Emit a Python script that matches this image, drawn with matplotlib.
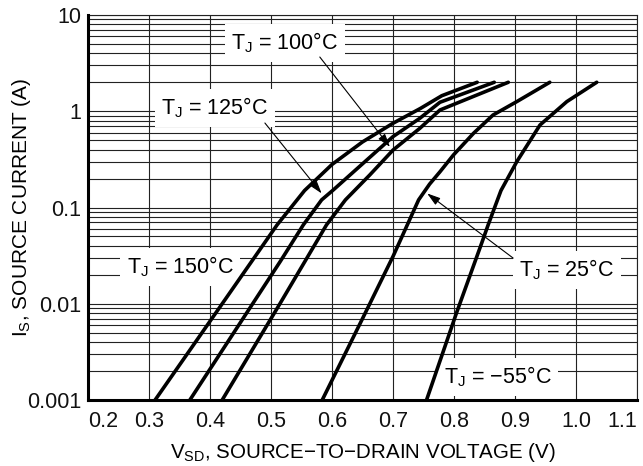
import matplotlib
matplotlib.use("Agg")
import matplotlib.pyplot as plt
from matplotlib.ticker import FixedLocator, NullFormatter, LogLocator

plt.rcParams['font.family'] = ['Liberation Sans', 'DejaVu Sans']
plt.rcParams['mathtext.fontset'] = 'custom'
plt.rcParams['mathtext.rm'] = 'Liberation Sans'
plt.rcParams['mathtext.it'] = 'Liberation Sans'

# ---- data ----
v_150 = [0.31, 0.42, 0.51, 0.555, 0.60, 0.65, 0.70, 0.745, 0.78, 0.838]
i_150 = [0.001, 0.01, 0.066, 0.15, 0.28, 0.48, 0.75, 1.07, 1.45, 2.0]

v_125 = [0.367, 0.515, 0.553, 0.583, 0.602, 0.651, 0.700, 0.744, 0.777, 0.866]
i_125 = [0.001, 0.0274, 0.066, 0.12, 0.152, 0.288, 0.545, 0.845, 1.24, 2.0]

v_100 = [0.42, 0.515, 0.591, 0.622, 0.662, 0.700, 0.744, 0.777, 0.889]
i_100 = [0.001, 0.0101, 0.066, 0.12, 0.218, 0.395, 0.665, 1.03, 2.0]

v_25 = [0.584, 0.649, 0.700, 0.742, 0.760, 0.777, 0.799, 0.832, 0.864, 0.903, 0.957]
i_25 = [0.001, 0.0068, 0.031, 0.12, 0.175, 0.235, 0.351, 0.59, 0.914, 1.26, 2.0]

v_m55 = [0.755, 0.804, 0.845, 0.856, 0.877, 0.903, 0.941, 0.985, 1.034]
i_m55 = [0.001, 0.008, 0.042, 0.066, 0.15, 0.30, 0.72, 1.26, 2.0]

x_ticks = [0.2, 0.3, 0.4, 0.5, 0.6, 0.7, 0.8, 0.9, 1.0, 1.1]
x_tick_labels = ['0.2', '0.3', '0.4', '0.5', '0.6', '0.7', '0.8', '0.9', '1.0', '1.1']
y_ticks = [0.001, 0.01, 0.1, 1, 10]
y_tick_labels = ['0.001', '0.01', '0.1', '1', '10']

labels = [r'T$_\mathregular{J}$ = 100°C', r'T$_\mathregular{J}$ = 125°C',
          r'T$_\mathregular{J}$ = 150°C', r'T$_\mathregular{J}$ = 25°C',
          r'T$_\mathregular{J}$ = −55°C']

fig = plt.figure(figsize=(6.43, 4.66), dpi=100)
ax = fig.add_axes([88/643, 66/466, (637-88)/643, (400-15)/466])

ax.set_yscale('log')
ax.set_xlim(0.2, 1.1)
ax.set_ylim(0.001, 10)

gcol = '#222222'
glw = 0.8
ax.xaxis.set_major_locator(FixedLocator(x_ticks))
ax.set_xticklabels(x_tick_labels)
ax.yaxis.set_major_locator(FixedLocator(y_ticks))
ax.set_yticklabels(y_tick_labels)
ax.yaxis.set_minor_locator(LogLocator(base=10, subs=range(2, 10), numticks=20))
ax.yaxis.set_minor_formatter(NullFormatter())
ax.grid(True, which='major', axis='both', color=gcol, lw=glw)
ax.grid(True, which='minor', axis='y', color=gcol, lw=glw)
ax.set_axisbelow(True)
ax.tick_params(axis='both', which='both', length=0, labelsize=15.5, colors='#111111')
ax.tick_params(axis='x', pad=8)
ax.tick_params(axis='y', pad=5)
xl = ax.get_xticklabels()
xl[0].set_horizontalalignment('left')
xl[-1].set_horizontalalignment('right')

for s in ['left', 'bottom']:
    ax.spines[s].set_linewidth(2.2)
    ax.spines[s].set_color('black')
    ax.spines[s].set_zorder(7)
for s in ['top', 'right']:
    ax.spines[s].set_linewidth(glw)
    ax.spines[s].set_color(gcol)

for v, i in [(v_150, i_150), (v_125, i_125), (v_100, i_100), (v_25, i_25), (v_m55, i_m55)]:
    ax.plot(v, i, color='black', lw=2.6, solid_capstyle='round', solid_joinstyle='round',
            zorder=5.5, clip_on=False)

bbox = dict(boxstyle='square,pad=0.3', fc='white', ec='none')
fs = 15.5
ax.text(0.523, 5.12, labels[0], fontsize=fs, ha='center', va='center', bbox=bbox, zorder=5)
ax.text(0.408, 1.08, labels[1], fontsize=fs, ha='center', va='center', bbox=bbox, zorder=5)
ax.text(0.351, 0.0241, labels[2], fontsize=fs, ha='center', va='center', bbox=bbox, zorder=5)
ax.text(0.985, 0.0224, labels[3], fontsize=fs, ha='center', va='center', bbox=bbox, zorder=5)
ax.text(0.872, 0.00173, labels[4], fontsize=fs, ha='center', va='center', bbox=bbox, zorder=5)

ap = dict(arrowstyle='-|>,head_length=0.8,head_width=0.25', color='black', lw=0.8,
          shrinkA=0, shrinkB=0)
ax.annotate('', xy=(0.695, 0.426), xytext=(0.580, 3.66), arrowprops=ap, zorder=6)
ax.annotate('', xy=(0.583, 0.14), xytext=(0.490, 0.755), arrowprops=ap, zorder=6)
ax.annotate('', xy=(0.756, 0.14), xytext=(0.897, 0.0298), arrowprops=ap, zorder=6)

ax.set_xlabel(r'V$_\mathregular{SD}$, SOURCE−TO−DRAIN VOLTAGE (V)', fontsize=14.8)
ax.set_ylabel(r'I$_\mathregular{S}$, SOURCE CURRENT (A)', fontsize=15.0)
ax.xaxis.set_label_coords(0.5, (400 - 441) / 385)
ax.yaxis.set_label_coords((33 - 88) / 549, 0.5)

fig.savefig('out.png', dpi=100)
